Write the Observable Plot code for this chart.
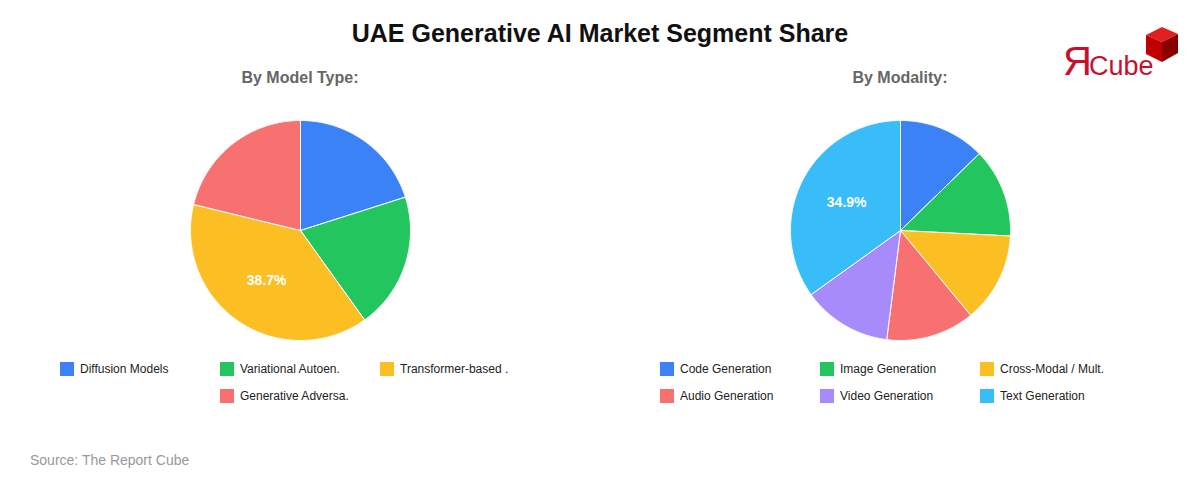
<!DOCTYPE html>
<html><head><meta charset="utf-8">
<script src="https://cdn.jsdelivr.net/npm/d3@7"></script>
<script src="https://cdn.jsdelivr.net/npm/@observablehq/plot@0.6"></script>
<style>
body{margin:0;background:#fff;font-family:"Liberation Sans",Arial,sans-serif;}
#page{position:relative;width:1200px;height:480px;overflow:hidden;}
.title{position:absolute;top:19px;left:0;width:1200px;text-align:center;font-size:25px;font-weight:bold;color:#111;}
.sub{position:absolute;top:69px;width:600px;text-align:center;font-size:16px;font-weight:bold;color:#666;}
.plot{position:absolute;top:110px;width:600px;}
.legend{position:absolute;top:362px;display:grid;grid-template-columns:160px 160px 160px;row-gap:13px;}
.item{display:flex;align-items:center;font-size:12px;color:#222;height:14px;}
.sw{width:14px;height:14px;margin-right:6px;flex:none;}
.src{position:absolute;left:30px;top:452px;font-size:14px;color:#999;}
.logo{position:absolute;left:1062px;top:26px;width:125px;height:60px;}
</style></head>
<body><div id="page">
<div class="title">UAE Generative AI Market Segment Share</div>
<div class="sub" style="left:0">By Model Type:</div>
<div class="sub" style="left:600px">By Modality:</div>
<div id="p1" class="plot" style="left:0"></div>
<div id="p2" class="plot" style="left:600px"></div>
<div id="l1" class="legend" style="left:60px"></div>
<div id="l2" class="legend" style="left:660px"></div>
<div class="src">Source: The Report Cube</div>
<svg class="logo" viewBox="0 0 125 60">
  <text x="1" y="49" font-family="Liberation Sans,Arial" font-size="40" fill="#c8102e">Я</text>
  <text x="27" y="49" font-family="Liberation Sans,Arial" font-size="27" fill="#c8102e">Cube</text>
  <polygon points="84,9 100,1 116,8 100,16" fill="#e02020"/>
  <polygon points="84,9 100,16 100,36 84,28" fill="#c00000"/>
  <polygon points="100,16 116,8 116,27 100,36" fill="#8a0000"/>
</svg>
</div>
<script>
const modelTypes = ["Diffusion Models","Variational Autoen.","Transformer-based .","Generative Adversa."];
const modelShares = [20.1, 20.0, 38.7, 21.2];
const modelColors = ["#3b82f6","#22c55e","#fbbf24","#f87171"];

const modalities = ["Code Generation","Image Generation","Cross-Modal / Mult.","Audio Generation","Video Generation","Text Generation"];
const modalityShares = [12.7, 13.1, 13.2, 13.0, 13.1, 34.9];
const modalityColors = ["#3b82f6","#22c55e","#fbbf24","#f87171","#a78bfa","#38bdf8"];

function pie(el, cats, vals, colors){
  const data = cats.map((c,i)=>({cat:c, value:vals[i]}));
  const arcs = d3.pie().sort(null).value(d=>d.value)(data);
  const pts = [];
  arcs.forEach(a=>{
    const n = Math.max(2, Math.ceil((a.endAngle-a.startAngle)/(Math.PI/360)));
    pts.push({cat:a.data.cat, x:0, y:0});
    for(let k=0;k<=n;k++){
      const t = a.startAngle + (a.endAngle-a.startAngle)*k/n;
      pts.push({cat:a.data.cat, x:Math.sin(t), y:Math.cos(t)});
    }
    pts.push({cat:a.data.cat, x:0, y:0});
  });
  const maxV = d3.max(vals);
  const labels = arcs.filter(a=>a.data.value===maxV).map(a=>{
    const m=(a.startAngle+a.endAngle)/2;
    return {x:0.55*Math.sin(m), y:0.55*Math.cos(m), text:a.data.value.toFixed(1)+"%"};
  });
  const plot = Plot.plot({
    width:600, height:240, margin:0,
    x:{domain:[-1,1], range:[190,410], axis:null},
    y:{domain:[-1,1], range:[230,10], axis:null},
    color:{domain:cats, range:colors},
    marks:[
      Plot.line(pts,{x:"x", y:"y", z:"cat", fill:"cat", stroke:"white", strokeWidth:1, curve:"linear"}),
      Plot.text(labels,{x:"x", y:"y", text:"text", fill:"white", fontSize:14, fontWeight:"bold", fontFamily:"Liberation Sans, Arial, sans-serif"})
    ]
  });
  document.getElementById(el).appendChild(plot);
}
function legend(el, cats, colors){
  const box=document.getElementById(el);
  cats.forEach((c,i)=>{
    const it=document.createElement("div"); it.className="item";
    if(cats.length===4 && i===3) it.style.gridColumn="2";
    it.innerHTML=`<span class="sw" style="background:${colors[i]}"></span>${c}`;
    box.appendChild(it);
  });
}
pie("p1", modelTypes, modelShares, modelColors);
pie("p2", modalities, modalityShares, modalityColors);
legend("l1", modelTypes, modelColors);
legend("l2", modalities, modalityColors);
</script>
</body></html>
